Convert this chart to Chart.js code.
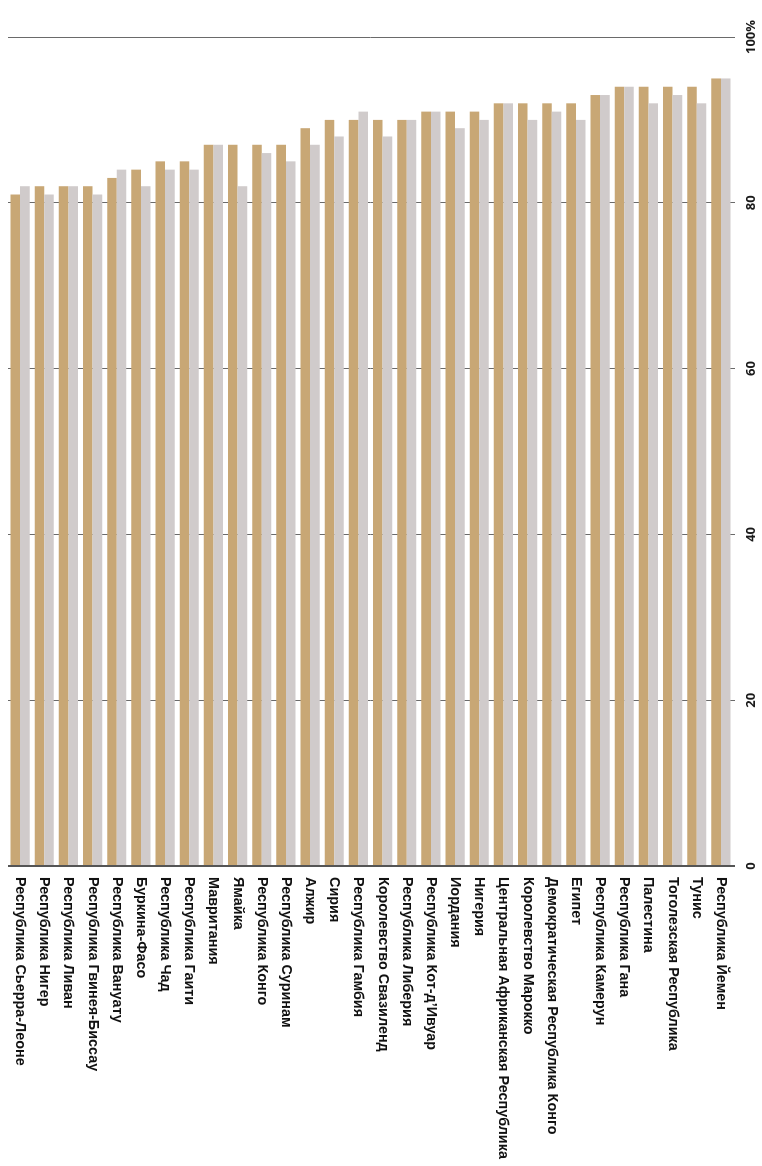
<!DOCTYPE html>
<html>
<head>
<meta charset="utf-8">
<script src="https://cdn.jsdelivr.net/npm/chart.js@4.4.1/dist/chart.umd.min.js"></script>
<style>
html,body{margin:0;padding:0;background:#fff;overflow:hidden;}
#wrap{position:absolute;left:0;top:0;width:1166px;height:762px;transform-origin:0 0;transform:translate(762px,0) rotate(90deg);}
canvas{display:block;}
</style>
</head>
<body>
<div id="wrap"><canvas id="c" width="1166" height="762" style="width:1166px;height:762px"></canvas></div>
<script>
const categories = [
  'Республика Сьерра-Леоне','Республика Нигер','Республика Ливан','Республика Гвинея-Биссау',
  'Республика Вануату','Буркина-Фасо','Республика Чад','Республика Гаити','Мавритания','Ямайка',
  'Республика Конго','Республика Суринам','Алжир','Сирия','Республика Гамбия','Королевство Свазиленд',
  'Республика Либерия','Республика Кот-д’Ивуар','Иордания','Нигерия','Центральная Африканская Республика',
  'Королевство Марокко','Демократическая Республика Конго','Египет','Республика Камерун','Республика Гана',
  'Палестина','Тоголезская Республика','Тунис','Республика Йемен'
];
const seriesA = [81,82,82,82,83,84,85,85,87,87,87,87,89,90,90,90,90,91,91,91,92,92,92,92,93,94,94,94,94,95];
const seriesB = [82,81,82,81,84,82,84,84,87,82,86,85,87,88,91,88,90,91,89,90,92,90,91,90,93,94,92,93,92,95];
const tickValues = [0,20,40,60,80,100];
const tickLabels = ['0','20','40','60','80','100%'];

const tickLabelPlugin = {
  id: 'rotatedTicks',
  afterDraw(chart) {
    const xs = chart.scales.x;
    const ctx = chart.ctx;
    ctx.save();
    ctx.fillStyle = '#1a1a1a';
    ctx.font = '700 13px "Open Sans", Lato, sans-serif';
    ctx.textAlign = 'center';
    ctx.textBaseline = 'middle';
    xs.ticks.forEach(t => {
      const i = tickValues.indexOf(t.value);
      if (i < 0) return;
      const u = xs.getPixelForValue(t.value);
      ctx.save();
      ctx.translate(u, 11);
      ctx.rotate(Math.PI);
      ctx.fillText(tickLabels[i], 0, 0);
      ctx.restore();
    });
    ctx.restore();
  }
};

new Chart(document.getElementById('c'), {
  type: 'bar',
  data: {
    labels: categories,
    datasets: [
      { label: 'B', data: seriesB, backgroundColor: '#d0cbcb', borderWidth: 0 },
      { label: 'A', data: seriesA, backgroundColor: '#c8a775', borderWidth: 0 }
    ]
  },
  options: {
    indexAxis: 'y',
    responsive: false,
    animation: false,
    devicePixelRatio: 1,
    layout: { padding: { left: 37, right: 0, top: 0, bottom: 8 } },
    plugins: { legend: { display: false }, tooltip: { enabled: false } },
    datasets: { bar: { categoryPercentage: 0.79, barPercentage: 1.0 } },
    scales: {
      x: {
        position: 'top',
        reverse: true,
        min: 0, max: 100,
        afterFit(s) { s.height = 29; s.paddingLeft = 0; s.paddingRight = 0; },
        afterBuildTicks(s) { s.ticks = tickValues.map(v => ({ value: v })); },
        ticks: { display: false },
        border: { display: false },
        grid: {
          color: ctx => ctx.tick && ctx.tick.value === 0 ? '#555555' : '#6a6a6a',
          lineWidth: ctx => ctx.tick && ctx.tick.value === 0 ? 2 : 1,
          drawTicks: true,
          tickLength: 2
        }
      },
      y: {
        position: 'right',
        reverse: true,
        afterFit(s) { s.width = 300; s.paddingTop = 0; s.paddingBottom = 0; },
        border: { display: false },
        grid: { display: false, drawTicks: false },
        ticks: {
          autoSkip: false,
          padding: 11,
          color: '#111',
          font: { family: '"Liberation Sans", Arial, sans-serif', size: 14.4, weight: '700' }
        }
      }
    }
  },
  plugins: [tickLabelPlugin]
});
</script>
</body>
</html>
